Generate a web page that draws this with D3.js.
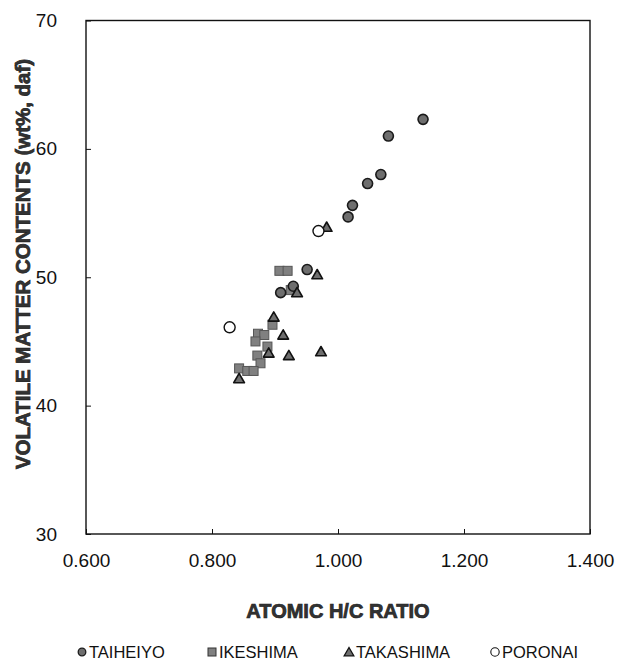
<!DOCTYPE html>
<html lang="en">
<head>
    <meta charset="UTF-8">
    <title>Volatile matter vs H/C</title>
    <script src="https://d3js.org/d3.v7.min.js"></script>
    <style>
        * { margin: 0; padding: 0; box-sizing: border-box; }
        html, body { width: 619px; height: 662px; background: #fff; overflow: hidden; }
        svg { display: block; font-family: "Liberation Sans", Arial, sans-serif; }
    </style>
</head>
<body>
<svg id="chart" width="619" height="662"></svg>
<script>
    // H/C ratio and volatile matter (wt%, daf)
    const taiheiyoHC = [1.135, 1.080, 1.068, 1.047, 1.023, 1.016, 0.951, 0.909, 0.929]
    const taiheiyoVM = [62.3, 61.0, 58.0, 57.3, 55.6, 54.7, 50.6, 48.8, 49.3]
    const ikeshimaHC = [0.907, 0.920, 0.925, 0.896, 0.873, 0.883, 0.869, 0.888, 0.872, 0.877, 0.843, 0.856, 0.866]
    const ikeshimaVM = [50.5, 50.5, 49.0, 46.3, 45.6, 45.5, 45.0, 44.6, 43.9, 43.3, 42.9, 42.7, 42.7]
    const takashimaHC = [0.982, 0.967, 0.935, 0.898, 0.913, 0.890, 0.922, 0.973, 0.843]
    const takashimaVM = [53.9, 50.2, 48.8, 46.9, 45.5, 44.1, 43.9, 44.2, 42.1]
    const poronaiHC = [0.969, 0.828]
    const poronaiVM = [53.6, 46.1]

    const xTicks = [0.6, 0.8, 1.0, 1.2, 1.4]
    const yTicks = [30, 40, 50, 60, 70]
    const seriesNames = ["TAIHEIYO", "IKESHIMA", "TAKASHIMA", "PORONAI"]

    const zip = (xs, ys) => xs.map((x, i) => ({ x, y: ys[i] }))

    const svg = d3.select("#chart")
    const pLeft = 86, pRight = 590, pTop = 20.5, pBottom = 534
    const x = d3.scaleLinear().domain([0.6, 1.4]).range([pLeft, pRight])
    const y = d3.scaleLinear().domain([30, 70]).range([pBottom, pTop])

    // frame
    svg.append("rect")
        .attr("x", pLeft).attr("y", pTop)
        .attr("width", pRight - pLeft).attr("height", pBottom - pTop)
        .attr("fill", "none").attr("stroke", "#111").attr("stroke-width", 1.4)

    const xAxis = svg.append("g")
        .attr("transform", `translate(0,${pBottom})`)
        .call(d3.axisBottom(x).tickValues(xTicks).tickFormat(d3.format(".3f"))
            .tickSizeInner(-5).tickSizeOuter(0).tickPadding(20))
    const yAxis = svg.append("g")
        .attr("transform", `translate(${pLeft},0)`)
        .call(d3.axisLeft(y).tickValues(yTicks).tickFormat(d3.format("d"))
            .tickSizeInner(-5).tickSizeOuter(0).tickPadding(29))
    for (const g of [xAxis, yAxis]) {
        g.select(".domain").remove()
        g.selectAll("line").attr("stroke", "#111").attr("stroke-width", 1)
        g.selectAll("text").attr("font-size", 19).attr("fill", "#111")
            .attr("font-family", "Liberation Sans, Arial, sans-serif")
    }

    // titles
    svg.append("text")
        .attr("x", (pLeft + pRight) / 2).attr("y", 618)
        .attr("text-anchor", "middle")
        .attr("font-size", 20).attr("font-weight", "bold")
        .attr("stroke", "#222").attr("stroke-width", 0.7)
        .attr("fill", "#333")
        .text("ATOMIC H/C RATIO")
    svg.append("text")
        .attr("transform", `translate(30,264) rotate(-90)`)
        .attr("text-anchor", "middle")
        .attr("font-size", 20.5).attr("font-weight", "bold")
        .attr("stroke", "#222").attr("stroke-width", 0.7)
        .attr("fill", "#333")
        .text("VOLATILE MATTER CONTENTS (wt%, daf)")

    const plot = svg.append("g")
    const tri = d3.symbol().type(d3.symbolTriangle)

    plot.selectAll(".ike")
        .data(zip(ikeshimaHC, ikeshimaVM))
        .join("rect")
        .attr("class", "ike")
        .attr("x", d => x(d.x) - 4.5).attr("y", d => y(d.y) - 4.5)
        .attr("width", 9).attr("height", 9)
        .attr("fill", "#808080").attr("stroke", "#555").attr("stroke-width", 1)

    plot.selectAll(".tai")
        .data(zip(taiheiyoHC, taiheiyoVM))
        .join("circle")
        .attr("class", "tai")
        .attr("cx", d => x(d.x)).attr("cy", d => y(d.y))
        .attr("r", 5)
        .attr("fill", "#6e6e6e").attr("stroke", "#1a1a1a").attr("stroke-width", 1.6)

    plot.selectAll(".tak")
        .data(zip(takashimaHC, takashimaVM))
        .join("path")
        .attr("class", "tak")
        .attr("transform", d => `translate(${x(d.x)},${y(d.y) + 1})`)
        .attr("d", tri.size(50))
        .attr("fill", "#6e6e6e").attr("stroke", "#111").attr("stroke-width", 1.6)
        .attr("stroke-linejoin", "round")

    plot.selectAll(".por")
        .data(zip(poronaiHC, poronaiVM))
        .join("circle")
        .attr("class", "por")
        .attr("cx", d => x(d.x)).attr("cy", d => y(d.y))
        .attr("r", 5.5)
        .attr("fill", "#fff").attr("stroke", "#111").attr("stroke-width", 1.4)

    // legend
    const legendX = [82, 212, 349, 495]
    const legendY = 652
    const leg = svg.selectAll(".leg")
        .data(seriesNames)
        .join("g")
        .attr("class", "leg")
        .attr("transform", (d, i) => `translate(${legendX[i]},${legendY})`)
    leg.each(function (d, i) {
        const g = d3.select(this)
        if (i === 0) {
            g.append("circle").attr("r", 3.8).attr("fill", "#6e6e6e")
                .attr("stroke", "#1a1a1a").attr("stroke-width", 1.3)
        } else if (i === 1) {
            g.append("rect").attr("x", -4).attr("y", -4).attr("width", 8).attr("height", 8)
                .attr("fill", "#808080").attr("stroke", "#333").attr("stroke-width", 1)
        } else if (i === 2) {
            g.append("path").attr("d", tri.size(40)).attr("transform", "translate(0,1)")
                .attr("fill", "#6e6e6e").attr("stroke", "#111").attr("stroke-width", 1.3)
        } else {
            g.append("circle").attr("r", 4.2).attr("fill", "#fff")
                .attr("stroke", "#111").attr("stroke-width", 1.1)
        }
        g.append("text").attr("x", 7).attr("y", 5.5)
            .attr("font-size", 16.5).attr("fill", "#111")
            .text(d)
    })
</script>
</body>
</html>
